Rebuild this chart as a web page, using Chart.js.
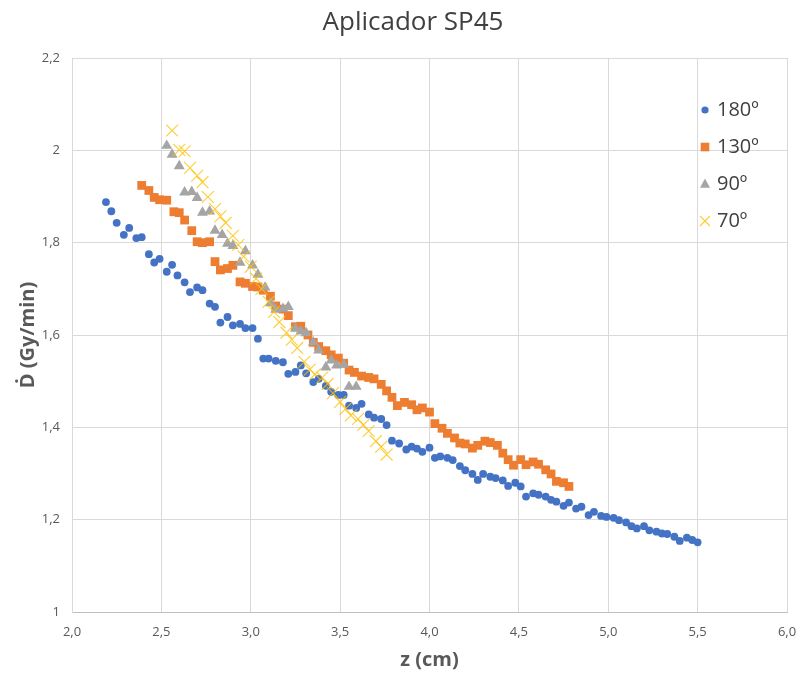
<!DOCTYPE html>
<html>
<head>
<meta charset="utf-8">
<title>Aplicador SP45</title>
<script src="https://cdn.jsdelivr.net/npm/chart.js@4/dist/chart.umd.min.js"></script>
<style>
  html, body { margin: 0; padding: 0; background: #fff; }
  #grafico { display: block; }
</style>
</head>
<body>
<canvas id="grafico" width="812" height="675"></canvas>
<script>
// profundidade z (cm) e taxa de dose (Gy/min) para cada angulo
const z180 = [2.19, 2.22, 2.25, 2.29, 2.32, 2.36, 2.39, 2.43, 2.46, 2.49, 2.53, 2.56, 2.59, 2.63, 2.66, 2.70, 2.73, 2.77, 2.80, 2.83,
  2.87, 2.90, 2.94, 2.97, 3.01, 3.04, 3.07, 3.10, 3.14, 3.18, 3.21, 3.25, 3.28, 3.31, 3.35, 3.38, 3.42, 3.45, 3.49, 3.52,
  3.55, 3.59, 3.62, 3.66, 3.69, 3.73, 3.76, 3.79, 3.83, 3.87, 3.90, 3.93, 3.96, 4.00, 4.03, 4.06, 4.10, 4.13, 4.17, 4.20,
  4.24, 4.27, 4.30, 4.34, 4.37, 4.41, 4.44, 4.48, 4.51, 4.54, 4.58, 4.61, 4.65, 4.68, 4.71, 4.75, 4.78, 4.82, 4.85, 4.89,
  4.92, 4.96, 4.99, 5.03, 5.06, 5.10, 5.13, 5.16, 5.20, 5.23, 5.27, 5.30, 5.33, 5.37, 5.40, 5.44, 5.47, 5.50]
const d180 = [1.888, 1.868, 1.843, 1.817, 1.832, 1.810, 1.812, 1.775, 1.757, 1.765, 1.737, 1.752, 1.729, 1.714, 1.693, 1.703, 1.697, 1.668, 1.661, 1.627,
  1.639, 1.621, 1.624, 1.615, 1.615, 1.592, 1.549, 1.549, 1.544, 1.541, 1.516, 1.520, 1.534, 1.517, 1.498, 1.505, 1.490, 1.477, 1.470, 1.470,
  1.447, 1.442, 1.451, 1.428, 1.421, 1.418, 1.405, 1.371, 1.365, 1.352, 1.358, 1.354, 1.347, 1.356, 1.334, 1.337, 1.334, 1.329, 1.316, 1.307,
  1.299, 1.286, 1.299, 1.293, 1.290, 1.285, 1.273, 1.280, 1.272, 1.250, 1.257, 1.254, 1.250, 1.243, 1.239, 1.230, 1.237, 1.224, 1.228, 1.210,
  1.217, 1.208, 1.206, 1.204, 1.199, 1.194, 1.186, 1.181, 1.186, 1.177, 1.174, 1.170, 1.169, 1.163, 1.154, 1.161, 1.156, 1.151]

const z130 = [2.39, 2.43, 2.46, 2.49, 2.53, 2.57, 2.60, 2.63, 2.67, 2.70, 2.73, 2.77, 2.80, 2.83, 2.87, 2.90, 2.94, 2.97, 3.01, 3.04,
  3.07, 3.11, 3.14, 3.18, 3.21, 3.25, 3.28, 3.32, 3.35, 3.38, 3.42, 3.45, 3.49, 3.52, 3.55, 3.58, 3.62, 3.66, 3.69, 3.73,
  3.76, 3.79, 3.82, 3.86, 3.90, 3.93, 3.96, 4.00, 4.03, 4.07, 4.10, 4.14, 4.17, 4.20, 4.24, 4.27, 4.31, 4.34, 4.38, 4.41,
  4.44, 4.47, 4.51, 4.54, 4.58, 4.61, 4.65, 4.68, 4.71, 4.75, 4.78]
const d130 = [1.924, 1.913, 1.898, 1.893, 1.892, 1.867, 1.865, 1.849, 1.826, 1.802, 1.800, 1.802, 1.759, 1.741, 1.744, 1.751, 1.715, 1.712, 1.705, 1.704,
  1.697, 1.684, 1.663, 1.656, 1.642, 1.618, 1.619, 1.600, 1.584, 1.575, 1.566, 1.557, 1.550, 1.539, 1.524, 1.519, 1.511, 1.508, 1.505, 1.493,
  1.479, 1.465, 1.447, 1.454, 1.449, 1.438, 1.442, 1.433, 1.408, 1.398, 1.387, 1.377, 1.366, 1.364, 1.355, 1.361, 1.370, 1.367, 1.361, 1.344,
  1.330, 1.318, 1.330, 1.319, 1.325, 1.320, 1.308, 1.299, 1.283, 1.280, 1.272]

const z90 = [2.53, 2.56, 2.60, 2.63, 2.67, 2.70, 2.73, 2.77, 2.80, 2.84, 2.87, 2.90, 2.94, 2.97, 3.01, 3.04, 3.08, 3.11, 3.14, 3.18,
  3.21, 3.25, 3.28, 3.31, 3.35, 3.38, 3.42, 3.45, 3.48, 3.52, 3.55, 3.59]
const d90 = [2.010, 1.991, 1.966, 1.909, 1.910, 1.897, 1.865, 1.868, 1.826, 1.817, 1.798, 1.793, 1.757, 1.782, 1.751, 1.731, 1.703, 1.669, 1.655, 1.657,
  1.661, 1.614, 1.608, 1.604, 1.584, 1.567, 1.530, 1.545, 1.534, 1.536, 1.488, 1.488]

const z70 = [2.56, 2.60, 2.63, 2.66, 2.70, 2.73, 2.76, 2.80, 2.83, 2.86, 2.90, 2.93, 2.96, 3.00, 3.03, 3.06, 3.10, 3.13, 3.16, 3.20,
  3.23, 3.26, 3.30, 3.33, 3.36, 3.40, 3.43, 3.46, 3.50, 3.53, 3.56, 3.60, 3.63, 3.66, 3.70, 3.73, 3.76]
const d70 = [2.043, 2.001, 1.998, 1.962, 1.945, 1.931, 1.899, 1.873, 1.857, 1.843, 1.815, 1.795, 1.770, 1.748, 1.722, 1.700, 1.672, 1.650, 1.628, 1.605,
  1.590, 1.572, 1.542, 1.525, 1.515, 1.508, 1.494, 1.474, 1.455, 1.440, 1.426, 1.418, 1.405, 1.392, 1.370, 1.358, 1.341]

const series = ['180º', '130º', '90º', '70º']
const cores = ['#4472c4', '#ed7d31', '#a5a5a5', 'rgba(255, 192, 0, 0.8)']

const fonte = "'Open Sans', 'DejaVu Sans', sans-serif"

const pontos = (xs, ys) => xs.map((x, i) => ({ x: x, y: ys[i] }))

const virgula = (v, casas) => {
  const n = Number(v.toFixed(casas))
  return String(n).replace('.', ',')
}

// legenda desenhada por cima da area do grafico, como no Excel
const legendaInterna = {
  id: 'legendaInterna',
  afterDraw(chart) {
    const ctx = chart.ctx
    ctx.save()
    chart.data.datasets.forEach((ds, i) => {
      const x = 705
      const y = 110 + i * 37
      ctx.fillStyle = ds.backgroundColor
      ctx.strokeStyle = ds.borderColor
      ctx.lineWidth = 1.2
      ctx.beginPath()
      if (ds.pointStyle === 'circle') {
        ctx.arc(x, y, 3.6, 0, Math.PI * 2)
        ctx.fill()
      } else if (ds.pointStyle === 'rect') {
        ctx.fillRect(x - 4.3, y - 4.3, 8.6, 8.6)
      } else if (ds.pointStyle === 'triangle') {
        ctx.moveTo(x, y - 5.5)
        ctx.lineTo(x + 5, y + 3.8)
        ctx.lineTo(x - 5, y + 3.8)
        ctx.closePath()
        ctx.fill()
      } else {
        ctx.moveTo(x - 5, y - 5)
        ctx.lineTo(x + 5, y + 5)
        ctx.moveTo(x + 5, y - 5)
        ctx.lineTo(x - 5, y + 5)
        ctx.stroke()
      }
      ctx.fillStyle = '#404040'
      ctx.font = '20px ' + fonte
      ctx.textAlign = 'left'
      ctx.textBaseline = 'middle'
      ctx.fillText(ds.label, 717, y)
    })
    ctx.restore()
  }
}

new Chart(document.getElementById('grafico'), {
  type: 'scatter',
  data: {
    datasets: [
      {
        label: series[0],
        data: pontos(z180, d180),
        pointStyle: 'circle',
        pointRadius: 3.9,
        backgroundColor: cores[0],
        borderColor: cores[0],
        borderWidth: 0,
        order: 4
      },
      {
        label: series[1],
        data: pontos(z130, d130),
        pointStyle: 'rect',
        pointRadius: 6.2,
        backgroundColor: cores[1],
        borderColor: cores[1],
        borderWidth: 0,
        order: 3
      },
      {
        label: series[2],
        data: pontos(z90, d90),
        pointStyle: 'triangle',
        pointRadius: 6.3,
        backgroundColor: cores[2],
        borderColor: cores[2],
        borderWidth: 0,
        order: 2
      },
      {
        label: series[3],
        data: pontos(z70, d70),
        pointStyle: 'crossRot',
        pointRadius: 8.4,
        backgroundColor: cores[3],
        borderColor: cores[3],
        borderWidth: 1.1,
        order: 1
      }
    ]
  },
  options: {
    responsive: false,
    animation: false,
    events: [],
    layout: {
      padding: { top: 58, right: 25, bottom: 0, left: 0 }
    },
    plugins: {
      legend: { display: false },
      tooltip: { enabled: false },
      title: { display: false }
    },
    scales: {
      x: {
        type: 'linear',
        min: 2,
        max: 6,
        afterFit: (s) => { s.height = 63 },
        ticks: {
          stepSize: 0.5,
          padding: 12,
          color: '#595959',
          font: { family: fonte, size: 13 },
          callback: (v) => virgula(v, 1).includes(',') ? virgula(v, 1) : virgula(v, 1) + ',0'
        },
        grid: { color: '#d9d9d9', lineWidth: 1, drawTicks: false },
        border: { color: '#bfbfbf' },
        title: {
          display: true,
          text: 'z (cm)',
          color: '#595959',
          font: { family: fonte, size: 20, weight: 'bold' },
          padding: { top: 0, bottom: 3 }
        }
      },
      y: {
        type: 'linear',
        min: 1,
        max: 2.2,
        afterFit: (s) => { s.width = 72 },
        ticks: {
          stepSize: 0.2,
          padding: 12,
          color: '#595959',
          font: { family: fonte, size: 13 },
          callback: (v) => virgula(v, 1)
        },
        grid: { color: '#d9d9d9', lineWidth: 1, drawTicks: false },
        border: { color: '#d9d9d9' },
        title: {
          display: true,
          text: 'Ḋ (Gy/min)',
          color: '#595959',
          font: { family: fonte, size: 20, weight: 'bold' },
          padding: { top: 16, bottom: 0 }
        }
      }
    }
  },
  plugins: [
    legendaInterna,
    {
      id: 'tituloTopo',
      afterDraw(chart) {
        const ctx = chart.ctx
        ctx.save()
        ctx.fillStyle = '#404040'
        ctx.font = '26px ' + fonte
        ctx.textAlign = 'center'
        ctx.textBaseline = 'middle'
        ctx.fillText('Aplicador SP45', 413, 23)
        ctx.restore()
      }
    }
  ]
})
</script>
</body>
</html>
